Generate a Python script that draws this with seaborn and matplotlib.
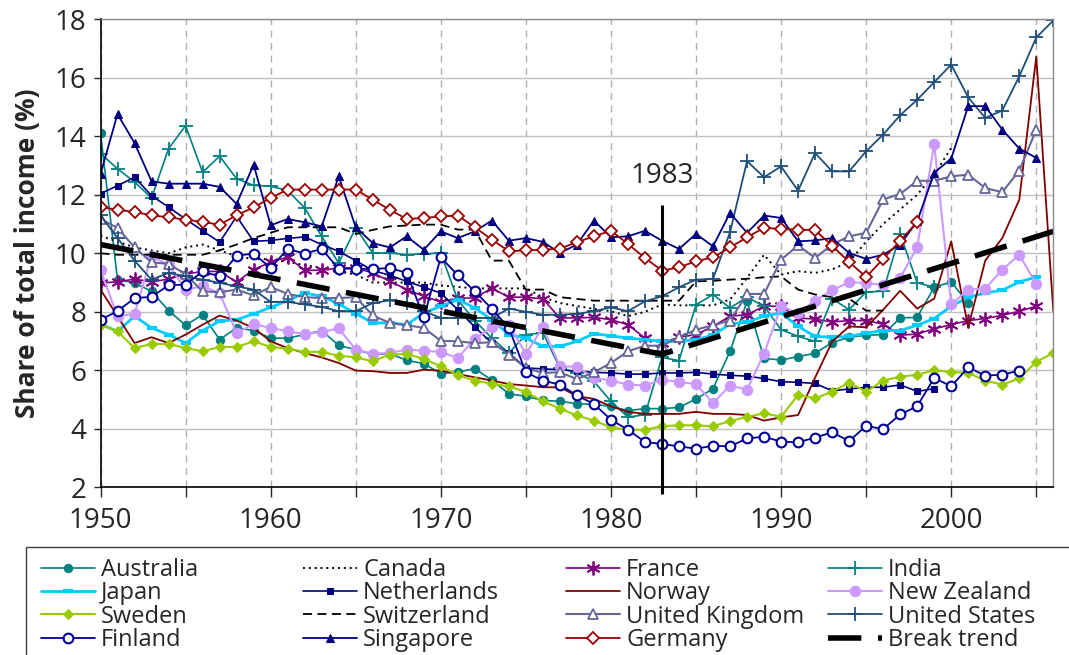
import numpy as np
import pandas as pd
import matplotlib
matplotlib.use("Agg")
import matplotlib.pyplot as plt
import seaborn as sns
from matplotlib.patches import Rectangle

# Top income shares, one value per year starting in 1950
FIRST_YEAR = 1950

australia = [14.11, 9.10, 8.99, 8.70, 8.04, 7.54, 7.90, 7.05, 7.45, 7.36,
             7.10, 7.10, 7.22, 7.36, 6.85, 6.71, 6.54, 6.57, 6.34, 6.23,
             5.89, 5.94, 6.06, 5.66, 5.20, 5.11, 4.97, 4.94, 4.86, 4.83,
             4.77, 4.62, 4.69, 4.69, 4.73, 5.02, 5.37, 6.65, 8.36, 6.41,
             6.35, 6.47, 6.58, 6.95, 7.13, 7.20, 7.22, 7.79, 7.81, 8.84,
             9.02, 8.30]
canada = [10.6, 10.4, 10.2, 10.1, 10.0, 10.2, 10.3, 10.1, 9.9, 9.8,
          9.8, 9.7, 9.6, 9.5, 9.38, 9.27, 9.0, 9.0, 9.0, 9.0,
          8.9, 8.85, 8.8, 8.8, 8.8, 8.8, 8.5, 8.3, 8.2, 8.1,
          8.02, 7.85, 8.0, 8.25, 8.22, 8.22, 8.22, 8.42, 9.16, 9.95,
          9.27, 9.39, 9.33, 9.45, 9.7, 10.4, 11.0, 11.5, 12.0, 12.7,
          13.6]
france = [8.99, 9.02, 9.12, 9.02, 9.12, 9.29, 9.38, 9.38, 9.02, 9.44,
          9.70, 9.87, 9.42, 9.42, 9.50, 9.50, 9.33, 9.05, 8.76, 8.53,
          8.34, 8.47, 8.47, 8.81, 8.50, 8.50, 8.44, 7.79, 7.79, 7.81,
          7.73, 7.56, 7.10, 6.93, 7.13, 7.22, 7.50, 7.85, 7.90, 8.19,
          8.19, 7.79, 7.75, 7.65, 7.70, 7.70, 7.58, 7.20, 7.24, 7.42,
          7.56, 7.70, 7.77, 7.88, 8.02, 8.19]
india = [13.41, 12.89, 12.44, 11.89, 13.58, 14.36, 12.77, 13.32, 12.55, 12.32,
         12.29, 12.15, 11.55, 10.58, 9.67, 10.87, 10.01, 10.01, 9.95, 9.98,
         10.01, 8.40, 7.70, 7.10, 6.59, 7.22, 7.28, 6.08, 5.91, 5.62,
         4.94, 4.40, 4.48, 6.44, 6.33, 8.24, 8.59, 8.13, 8.50, 8.19,
         7.39, 7.16, 6.99, 8.45, 8.07, 8.68, 8.70, 10.66, 8.99, 8.84]
japan = [7.58, 7.33, 7.85, 7.45, 7.22, 6.93, 7.36, 7.68, 7.73, 7.93,
         8.15, 8.38, 8.64, 8.53, 8.27, 7.94, 7.62, 7.62, 7.56, 7.96,
         8.19, 8.42, 8.13, 7.73, 7.22, 7.10, 6.82, 6.82, 6.99, 7.25,
         7.18, 7.10, 7.05, 6.99, 6.99, 7.05, 7.20, 7.58, 7.65, 7.85,
         7.96, 7.50, 7.16, 7.13, 7.16, 7.27, 7.36, 7.36, 7.54, 7.77,
         8.19, 8.50, 8.64, 8.74, 9.02, 9.19]
netherlands = [12.04, 12.31, 12.60, 11.97, 11.58, 11.17, 10.77, 10.38, 11.26, 10.41,
               10.44, 10.51, 10.56, 10.30, 10.07, 9.75, 9.41, 9.25, 9.04, 8.84,
               8.64, 8.07, 7.48, 6.93, 6.59, 6.08, 6.05, 6.02, 5.97, 5.93,
               5.91, 5.87, 5.87, 5.91, 5.91, 5.93, 5.87, 5.83, 5.80, 5.72,
               5.61, 5.59, 5.55, 5.30, 5.36, 5.42, 5.42, 5.50, 5.28, 5.37]
norway = [8.76, 7.85, 6.93, 7.13, 6.93, 7.22, 7.56, 7.87, 7.70, 7.45,
          6.99, 6.76, 6.59, 6.44, 6.25, 5.99, 5.97, 5.91, 5.91, 6.02,
          5.99, 5.87, 5.76, 5.65, 5.53, 5.48, 5.42, 5.42, 5.12, 5.02,
          4.77, 4.58, 4.51, 4.51, 4.51, 4.58, 4.51, 4.51, 4.47, 4.28,
          4.39, 4.47, 5.75, 6.98, 7.50, 7.47, 8.07, 8.72, 8.11, 8.45,
          10.41, 7.47, 9.75, 10.52, 11.83, 16.73, 8.02]
new_zealand = [9.42, 7.85, 7.93, 9.90, 9.60, 8.76, 8.87, 8.64, 7.28, 7.58,
               7.45, 7.33, 7.24, 7.31, 7.43, 6.71, 6.57, 6.59, 6.71, 6.67,
               6.63, 6.42, 7.08, 7.47, 7.56, 6.56, 7.47, 6.14, 6.12, 5.74,
               5.65, 5.51, 5.48, 5.68, 5.60, 5.53, 4.88, 5.48, 5.34, 6.57,
               8.19, 7.96, 8.38, 8.74, 9.01, 8.99, 8.91, 9.16, 10.21, 13.74,
               8.25, 8.76, 8.79, 9.44, 9.95, 8.95]
sweden = [7.56, 7.33, 6.76, 6.90, 6.90, 6.76, 6.65, 6.80, 6.80, 6.99,
          6.80, 6.74, 6.63, 6.63, 6.50, 6.44, 6.31, 6.54, 6.56, 6.39,
          6.14, 5.83, 5.65, 5.54, 5.45, 5.26, 4.94, 4.69, 4.46, 4.28,
          4.05, 3.97, 3.97, 4.09, 4.12, 4.12, 4.09, 4.26, 4.41, 4.53,
          4.41, 5.16, 5.04, 5.27, 5.58, 5.27, 5.65, 5.78, 5.85, 6.00,
          5.94, 5.91, 5.65, 5.51, 5.72, 6.29, 6.59]
switzerland = [10.0, 9.95, 9.95, 9.95, 9.95, 9.95, 9.95, 10.1, 10.3, 10.52,
               10.7, 10.89, 10.89, 10.89, 10.89, 10.66, 10.8, 10.92, 10.95, 10.98,
               10.98, 10.81, 10.81, 9.75, 9.75, 8.76, 8.76, 8.50, 8.44, 8.38,
               8.38, 8.38, 8.38, 8.38, 8.38, 9.04, 9.06, 9.10, 9.13, 9.18,
               9.21, 8.76, 8.59, 8.50, 8.45, 8.04, 8.04]
united_kingdom = [11.17, 10.87, 10.20, 9.69, 9.64, 9.28, 8.70, 8.67, 8.76, 8.56,
                  8.85, 8.61, 8.50, 8.47, 8.47, 8.50, 7.88, 7.62, 7.54, 7.45,
                  7.01, 6.99, 6.93, 6.96, 6.54, 6.08, 5.91, 5.93, 5.70, 5.93,
                  6.25, 6.65, 6.84, 6.84, 7.13, 7.39, 7.54, 7.70, 8.61, 8.61,
                  9.78, 10.27, 9.84, 10.30, 10.58, 10.70, 11.84, 12.03, 12.48, 12.48,
                  12.63, 12.69, 12.23, 12.09, 12.83, 14.23]
united_states = [11.30, 10.52, 9.75, 9.10, 9.33, 9.21, 9.10, 8.99, 8.87, 8.76,
                 8.34, 8.34, 8.25, 8.17, 8.02, 8.02, 8.30, 8.39, 8.30, 8.02,
                 7.79, 7.79, 7.79, 7.79, 8.11, 8.00, 7.90, 7.90, 7.93, 8.02,
                 8.15, 8.02, 8.36, 8.53, 8.84, 9.10, 9.13, 10.72, 13.15, 12.60,
                 12.97, 12.14, 13.43, 12.80, 12.80, 13.49, 14.06, 14.72, 15.25, 15.85,
                 16.45, 15.33, 14.63, 14.88, 16.05, 17.38, 17.96]
finland = [7.73, 8.02, 8.47, 8.51, 8.91, 8.93, 9.38, 9.21, 9.92, 9.99,
           9.50, 10.15, 9.99, 10.15, 9.47, 9.48, 9.46, 9.50, 9.33, 7.81,
           9.86, 9.25, 8.70, 8.10, 7.45, 5.93, 5.65, 5.51, 5.14, 4.85,
           4.31, 3.97, 3.55, 3.48, 3.40, 3.32, 3.42, 3.40, 3.67, 3.73,
           3.56, 3.54, 3.70, 3.88, 3.58, 4.10, 3.99, 4.49, 4.77, 5.74,
           5.45, 6.10, 5.82, 5.85, 5.99]
singapore = [12.71, 14.76, 13.77, 12.46, 12.38, 12.38, 12.38, 12.27, 11.69, 13.03,
             10.96, 11.17, 11.06, 10.92, 12.63, 10.89, 10.35, 10.20, 10.58, 10.12,
             10.75, 10.52, 10.75, 11.12, 10.43, 10.52, 10.39, 10.01, 10.30, 11.12,
             10.55, 10.58, 10.77, 10.43, 10.15, 10.66, 10.24, 11.38, 10.70, 11.29,
             11.21, 10.41, 10.44, 10.52, 10.01, 9.81, 9.95, 10.30, 11.09, 12.75,
             13.24, 15.03, 15.03, 14.23, 13.58, 13.26]
germany = [11.58, 11.49, 11.41, 11.30, 11.23, 11.15, 11.07, 10.98, 11.30, 11.57,
           11.89, 12.18, 12.18, 12.18, 12.18, 12.18, 11.83, 11.49, 11.17, 11.21,
           11.26, 11.29, 10.89, 10.47, 10.07, 10.10, 10.12, 10.16, 10.38, 10.58,
           10.77, 10.32, 9.84, 9.41, 9.52, 9.73, 9.86, 10.20, 10.55, 10.87,
           10.83, 10.81, 10.79, 10.26, 9.70, 9.19, 9.81, 10.43, 11.07]

break_years = [1950, 1983, 2006]
break_trend = [10.30, 6.55, 10.75]
break_year = 1983

series = {
    "Australia": australia, "Canada": canada, "France": france, "India": india,
    "Japan": japan, "Netherlands": netherlands, "Norway": norway,
    "New Zealand": new_zealand, "Sweden": sweden, "Switzerland": switzerland,
    "United Kingdom": united_kingdom, "United States": united_states,
    "Finland": finland, "Singapore": singapore, "Germany": germany,
}

styles = {
    "Australia": dict(color="#008080", marker="o", markersize=6, markerfacecolor="#008080",
                      markeredgecolor="#008080", linewidth=1.2),
    "Canada": dict(color="black", linestyle=(0, (1, 2)), linewidth=1.4),
    "France": dict(color="#800080", marker=(6, 2, 0), markersize=10,
                   markeredgecolor="#800080", markeredgewidth=1.3, linewidth=1.2),
    "India": dict(color="#008080", marker="+", markersize=10, markeredgecolor="#008080",
                  markeredgewidth=1.3, linewidth=1.2),
    "Japan": dict(color="#00CCFF", marker="_", markersize=7, markeredgecolor="#00CCFF",
                  markeredgewidth=3, linewidth=2),
    "Netherlands": dict(color="#000080", marker="s", markersize=5, markerfacecolor="#000080",
                        markeredgecolor="#000080", linewidth=1.2),
    "Norway": dict(color="#800000", linewidth=1.3),
    "New Zealand": dict(color="#CC99FF", marker="o", markersize=7.5, markerfacecolor="#CC99FF",
                        markeredgecolor="#CC99FF", linewidth=1.5),
    "Sweden": dict(color="#99CC00", marker="D", markersize=5.5, markerfacecolor="#99CC00",
                   markeredgecolor="#99CC00", linewidth=1.5),
    "Switzerland": dict(color="black", linestyle=(0, (5, 3)), linewidth=1.3),
    "United Kingdom": dict(color="#666699", marker="^", markersize=7.5, markerfacecolor="white",
                           markeredgecolor="#666699", markeredgewidth=1.3, linewidth=1.5),
    "United States": dict(color="#1F4E79", marker="+", markersize=10, markeredgecolor="#1F4E79",
                          markeredgewidth=1.3, linewidth=1.3),
    "Finland": dict(color="#000099", marker="o", markersize=7, markerfacecolor="white",
                    markeredgecolor="#000099", markeredgewidth=1.5, linewidth=1.3),
    "Singapore": dict(color="#000080", marker="^", markersize=6, markerfacecolor="#000080",
                      markeredgecolor="#000080", linewidth=1.3),
    "Germany": dict(color="#990000", marker="D", markersize=6, markerfacecolor="white",
                    markeredgecolor="#990000", markeredgewidth=1.3, linewidth=1.3),
}

sns.set_style("white")
plt.rcParams["font.family"] = ["Open Sans", "DejaVu Sans"]

W, H = 1069, 655
fig = plt.figure(figsize=(W / 100, H / 100), dpi=100)
ax = fig.add_axes([100.5 / W, 1 - 487.3 / H, (1053.3 - 100.5) / W, (487.3 - 19.3) / H])

handles = {}
for name, values in series.items():
    df = pd.DataFrame({"year": np.arange(FIRST_YEAR, FIRST_YEAR + len(values)),
                       "share": values})
    sns.lineplot(data=df, x="year", y="share", ax=ax, errorbar=None, legend=False,
                 **styles[name])
    handles[name] = ax.lines[-1]

trend = pd.DataFrame({"year": break_years, "share": break_trend})
sns.lineplot(data=trend, x="year", y="share", ax=ax, errorbar=None, legend=False,
             color="black", linewidth=4, linestyle=(0, (6, 3)))
handles["Break trend"] = ax.lines[-1]

# break marker
ax.vlines(break_year, 1.78, 11.65, color="black", linewidth=2.2, clip_on=False, zorder=5)
ax.text(break_year, 12.65, str(break_year), ha="center", va="center", fontsize=20)

ax.set_xlim(1950, 2006)
ax.set_ylim(2, 18)
ax.set_yticks(np.arange(2, 19, 2))
ax.set_xticks(np.arange(1950, 2006, 5))
ax.set_xticklabels([str(y) if y % 10 == 0 else "" for y in range(1950, 2006, 5)])
ax.tick_params(axis="x", direction="out", length=7, width=1, pad=7, labelsize=20, bottom=True)
ax.tick_params(axis="y", direction="out", length=5, width=1, pad=5, labelsize=20, left=True)
ax.set_xlabel("")
ax.set_ylabel("Share of total income (%)", fontsize=19, fontweight="bold", labelpad=10)

ax.yaxis.grid(True, color="#C0C0C0", linewidth=1, linestyle="-")
ax.xaxis.grid(True, color="#B0B0B0", linewidth=1, linestyle=(0, (5, 4)))
ax.set_axisbelow(True)
for side in ["left", "bottom"]:
    ax.spines[side].set_color("black")
    ax.spines[side].set_linewidth(1.2)
for side in ["top", "right"]:
    ax.spines[side].set_color("#8C8C8C")
    ax.spines[side].set_linewidth(1)

# legend: four columns laid out row by row, inside one box
order = ["Australia", "Canada", "France", "India",
         "Japan", "Netherlands", "Norway", "New Zealand",
         "Sweden", "Switzerland", "United Kingdom", "United States",
         "Finland", "Singapore", "Germany", "Break trend"]
col_x = [41, 303, 566, 828]
for c in range(4):
    names = order[c::4]
    fig.legend([handles[n] for n in names], names, loc="upper left",
               bbox_to_anchor=(col_x[c] / W, 1 - 558 / H), frameon=False, fontsize=17,
               handlelength=2.3, handletextpad=0.25, labelspacing=-0.03,
               borderpad=0, borderaxespad=0)
fig.add_artist(Rectangle((26 / W, -0.1), 1.2, (1 - 547 / H) + 0.1, transform=fig.transFigure,
                         fill=False, edgecolor="#404040", linewidth=1))

fig.savefig("out.png", dpi=100)
